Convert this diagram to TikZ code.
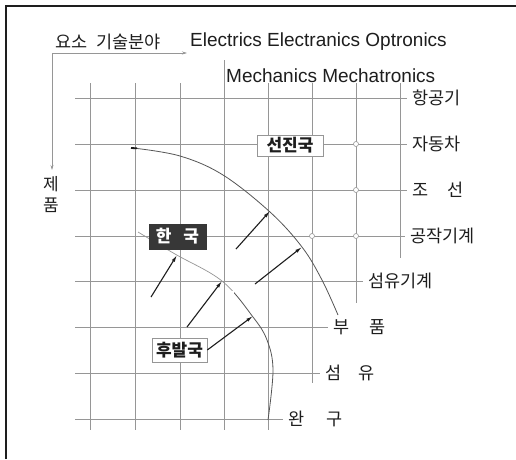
\documentclass[tikz,border=0pt]{standalone}
\usepackage{fontspec}
\setmainfont{Liberation Sans}
\newfontfamily\kr{Noto Sans CJK KR}
\usepackage{xcolor}
\definecolor{ink}{RGB}{30,30,30}
\definecolor{rule}{RGB}{150,150,150}
\definecolor{trace}{RGB}{85,85,85}
\definecolor{slab}{RGB}{55,55,55}
\usetikzlibrary{arrows.meta,positioning}
\tikzset{
  gridline/.style={draw=rule, line width=0.6pt},
  axisline/.style={draw=rule, line width=0.6pt, -{Stealth[length=5pt,width=3pt]}},
  push/.style={draw=ink, line width=1.1pt, -{Latex[length=7pt,width=3.5pt]}},
  rowlabel/.style={anchor=west, inner sep=1pt, outer sep=4pt, text=ink,
                   font={\kr\fontsize{17.5}{20}\selectfont}},
  techlabel/.style={anchor=west, inner sep=0pt, text=ink,
                    font={\fontsize{19}{22}\selectfont}},
  hole/.style={circle, draw=rule, fill=white, line width=0.6pt,
               inner sep=0pt, minimum size=5pt},
  tagbox/.style={draw=rule, fill=white, line width=0.6pt, inner sep=0pt,
                 text=ink, font={\kr\bfseries\fontsize{17}{20}\selectfont}},
}
\begin{document}
\begin{tikzpicture}[x=1pt,y=-1pt]
\fill[white] (0,0) rectangle (516,459);
\useasboundingbox (0,0) rectangle (516,459);
% frame
\draw[ink, line width=1.6pt] (6,459) -- (6,6) -- (516,6);

% axis titles
\coordinate (origin) at (52,53);
\coordinate (xend) at (187,53);
\coordinate (yend) at (52,170);
\draw[axisline] (origin) -- (xend);
\draw[axisline] (origin) -- (yend);
\node[anchor=west, inner sep=0pt, text=ink, font={\kr\fontsize{17.5}{20}\selectfont}]
  (elem) at (55,42) {요소\hspace{0.5em}기술분야};
\node[anchor=center, inner sep=0pt, align=center, text=ink,
      font={\kr\fontsize{17}{21}\selectfont}] (prod) at (51,195) {제\\품};
\node[techlabel] (techtop) at (190,42) {Electrics Electranics Optronics};
\node[techlabel] (techlow) at (226,76) {Mechanics Mechatronics};

% row labels
\node[rowlabel] (aero)    at (407,98)  {항공기};
\node[rowlabel] (auto)    at (407,144) {자동차};
\node[rowlabel] (ship)    at (407,190) {조\hspace{1.1em}선};
\node[rowlabel] (tool)    at (405,236) {공작기계};
\node[rowlabel] (texmach) at (363,281) {섬유기계};
\node[rowlabel] (parts)   at (328,327) {부\hspace{1.15em}품};
\node[rowlabel] (fiber)   at (320,373) {섬\hspace{1em}유};
\node[rowlabel] (toy)     at (283,419) {완\hspace{1.3em}구};

% grid
\foreach \gx/\gtop/\gbot in {90/83/430,135/83/430,180/83/430,224/60/430,
                             268/83/430,312/83/383,356/83/303,400/83/258}
  \draw[gridline] (\gx,\gtop) -- (\gx,\gbot);
\draw[gridline] (75,98)  -- (aero.west);
\draw[gridline] (75,144) -- (auto.west);
\draw[gridline] (75,190) -- (ship.west);
\draw[gridline] (75,236) -- (tool.west);
\draw[gridline] (75,281) -- (texmach.west);
\draw[gridline] (75,327) -- (parts.west);
\draw[gridline] (75,373) -- (fiber.west);
\draw[gridline] (75,419) -- (toy.west);

% small circles
\node[hole] (c1) at (356,144) {};
\node[hole] (c2) at (356,190) {};
\node[hole] (c3) at (312,236) {};
\node[hole] (c4) at (356,236) {};

% frontiers
\draw[trace, line width=0.8pt] plot[smooth, tension=0.6] coordinates
  {(133,148) (180,156) (223,175) (270,212) (302,247) (322,280) (338,315)};
\draw[ink, line width=1.8pt] (131,148) -- (137,148.3);
\begin{scope}
  \clip (0,0) rectangle (234,290);
  \draw[rule, line width=0.7pt] plot[smooth, tension=0.6] coordinates
    {(138,232) (175,254) (222,281) (253,317) (267,340) (273,370) (268,420)};
\end{scope}
\begin{scope}
  \clip (234,290) rectangle (516,459);
  \draw[trace, line width=0.8pt] plot[smooth, tension=0.6] coordinates
    {(138,232) (175,254) (222,281) (253,317) (267,340) (273,370) (268,420)};
\end{scope}

% boxes
\node[tagbox, minimum width=66pt, minimum height=21pt] (adv) at (290,145.5) {선진국};
\node[tagbox, fill=slab, draw=slab, text=white, minimum width=57pt,
      minimum height=25pt] (korea) at (177.5,236.5) {한\hspace{0.7em}국};
\node[tagbox, minimum width=55pt, minimum height=24pt] (late) at (179.5,350) {후발국};

% arrows
\coordinate (a1s) at (236,249); \coordinate (a1e) at (270,211);
\coordinate (a2s) at (255,284); \coordinate (a2e) at (302,247);
\coordinate (a3s) at (151,297); \coordinate (a3e) at (177,255);
\coordinate (a4s) at (187,327); \coordinate (a4e) at (222,281);
\coordinate (a5e) at (253,316);
\draw[push] (a1s) -- (a1e);
\draw[push] (a2s) -- (a2e);
\draw[push] (a3s) -- (a3e);
\draw[push] (a4s) -- (a4e);
\draw[push] (late.east) -- (a5e);
\end{tikzpicture}
\end{document}
